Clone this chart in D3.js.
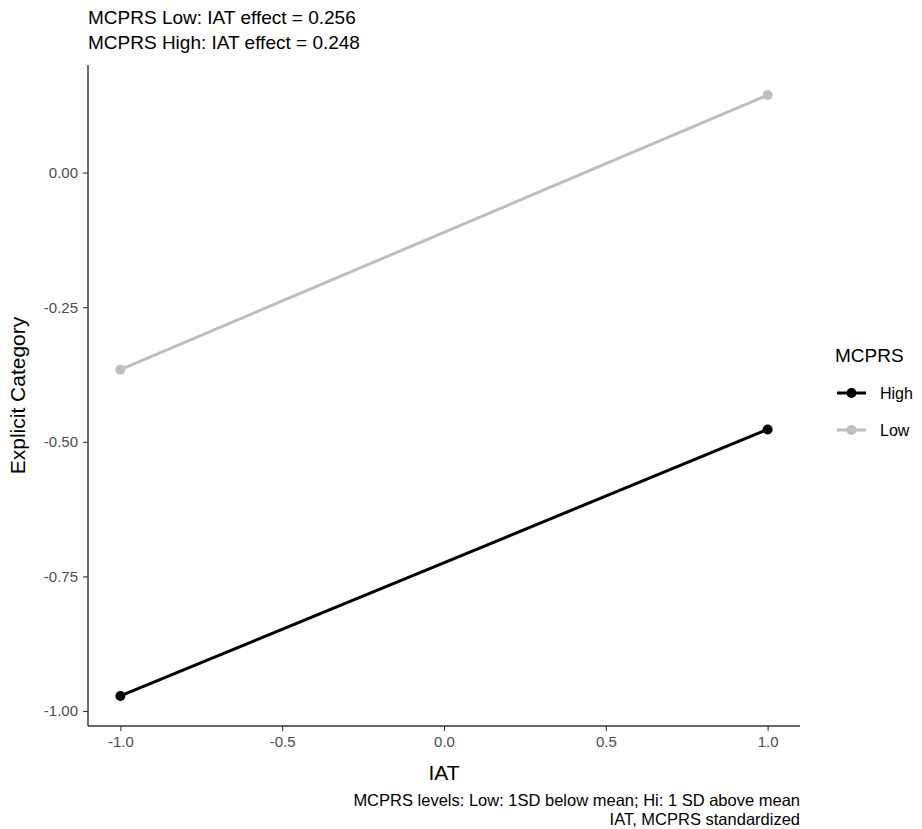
<!DOCTYPE html>
<html>
<head>
<meta charset="utf-8">
<script src="https://cdn.jsdelivr.net/npm/d3@7"></script>
<style>
  body { margin: 0; background: #fff; }
  svg text { font-family: "Liberation Sans", Arial, sans-serif; }
</style>
</head>
<body>
<div id="chart"></div>
<script>
var iatValues = [-1, 1];
var groups = ['High', 'Low'];
var highValues = [-0.972, -0.477];
var lowValues = [-0.366, 0.144];
var groupColors = ['#000000', '#BEBEBE'];
var xTicks = [-1.0, -0.5, 0.0, 0.5, 1.0];
var yTicks = [-1.0, -0.75, -0.5, -0.25, 0.0];
var titleLines = ['MCPRS Low: IAT effect = 0.256', 'MCPRS High: IAT effect = 0.248'];
var captionLines = ['MCPRS levels: Low: 1SD below mean; Hi: 1 SD above mean', 'IAT, MCPRS standardized'];

var width = 922, height = 829;
var margin = {left: 88, right: 122, top: 65, bottom: 103};
var innerW = width - margin.left - margin.right;
var innerH = height - margin.top - margin.bottom;

var series = [
  {name: groups[0], values: highValues, color: groupColors[0]},
  {name: groups[1], values: lowValues, color: groupColors[1]}
];

var x = d3.scaleLinear().domain([-1.1, 1.1]).range([0, innerW]);
var y = d3.scaleLinear().domain([-1.0278, 0.1998]).range([innerH, 0]);

// ggplot prints a plain hyphen, not the unicode minus
function hyphen(fmt) {
  var f = d3.format(fmt);
  return function (d) { return f(d).replace('\u2212', '-'); };
}

var svg = d3.select('#chart').append('svg')
  .attr('width', width).attr('height', height);

var g = svg.append('g').attr('transform', 'translate(' + margin.left + ',' + margin.top + ')');

var line = d3.line()
  .x(function (d, i) { return x(iatValues[i]); })
  .y(function (d) { return y(d); });

// lines + points, low first so high draws over
series.slice().reverse().forEach(function (s) {
  g.append('path')
    .attr('d', line(s.values))
    .attr('fill', 'none')
    .attr('stroke', s.color)
    .attr('stroke-width', 3);
  g.selectAll(null).data(s.values).enter().append('circle')
    .attr('cx', function (d, i) { return x(iatValues[i]); })
    .attr('cy', function (d) { return y(d); })
    .attr('r', 5)
    .attr('fill', s.color);
});

// axes
var xAxis = d3.axisBottom(x).tickValues(xTicks).tickFormat(hyphen('.1f')).tickSize(5).tickPadding(5);
var yAxis = d3.axisLeft(y).tickValues(yTicks).tickFormat(hyphen('.2f')).tickSize(5).tickPadding(5);

var gx = g.append('g').attr('transform', 'translate(0,' + innerH + ')').call(xAxis);
var gy = g.append('g').call(yAxis);

[gx, gy].forEach(function (ax) {
  ax.attr('font-size', null).attr('font-family', null);
  ax.select('.domain').attr('stroke', '#333').attr('stroke-width', 1.4);
  ax.selectAll('.tick line').attr('stroke', '#333').attr('stroke-width', 1.1);
  ax.selectAll('.tick text').attr('fill', '#4d4d4d').style('font-size', '15px');
});
gx.select('.domain').attr('d', 'M0,0H' + innerW);
gy.select('.domain').attr('d', 'M0,' + innerH + 'V0');

// axis titles
svg.append('text')
  .attr('x', margin.left + innerW / 2).attr('y', 780)
  .attr('text-anchor', 'middle').style('font-size', '21px').text('IAT');
svg.append('text')
  .attr('transform', 'translate(25,' + (margin.top + innerH / 2) + ') rotate(-90)')
  .attr('text-anchor', 'middle').style('font-size', '21px').text('Explicit Category');

// title
titleLines.forEach(function (t, i) {
  svg.append('text')
    .attr('x', 88).attr('y', 24 + i * 25)
    .style('font-size', '19px').text(t);
});

// caption
captionLines.forEach(function (t, i) {
  svg.append('text')
    .attr('x', margin.left + innerW).attr('y', 806 + i * 18.5)
    .attr('text-anchor', 'end').style('font-size', '16.5px').text(t);
});

// legend
var legend = svg.append('g').attr('transform', 'translate(835,0)');
legend.append('text').attr('x', 0).attr('y', 362).style('font-size', '19px').text('MCPRS');
series.forEach(function (s, i) {
  var ly = 393 + i * 37;
  legend.append('line').attr('x1', 2).attr('x2', 31).attr('y1', ly).attr('y2', ly)
    .attr('stroke', s.color).attr('stroke-width', 3);
  legend.append('circle').attr('cx', 16.5).attr('cy', ly).attr('r', 5).attr('fill', s.color);
  legend.append('text').attr('x', 45).attr('y', ly + 6).style('font-size', '16px').text(s.name);
});
</script>
</body>
</html>
